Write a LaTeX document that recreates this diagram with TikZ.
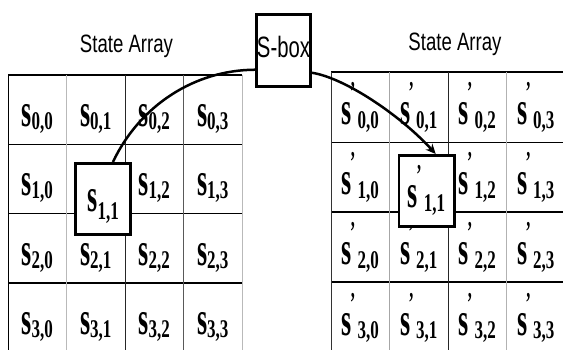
\documentclass[tikz,border=0pt]{standalone}
\usepackage{fontspec}
\setmainfont{Liberation Serif}
\setsansfont{Liberation Sans}
\usetikzlibrary{arrows.meta}

% bold, tall letter s used in every state cell
\newcommand\ssym{\scalebox{1}[1.8]{\fontsize{26}{26}\selectfont\bfseries s}}
% lowered index pair, optional argument = how far it drops
\newcommand\lsub[2][3pt]{\raisebox{-#1}{\scalebox{1}[1.5]{\fontsize{17}{17}\selectfont\bfseries #2}}}
% input state entry  s_{i,j}
\newcommand\lcell[2][3pt]{\ssym\lsub[#1]{#2}}
% output state entry  s'_{i,j}
\newcommand\rcell[1]{\ssym\rlap{\hspace{-1.5pt}\raisebox{23pt}{\scalebox{1}[1.8]{\fontsize{16}{16}\selectfont\bfseries ’}}}\hspace{6pt}\lsub[4pt]{#1}}

\tikzset{
  gridh/.style={line width=1.1pt, black},
  gridv/.style={line width=0.9pt, draw=#1},
  cellbox/.style={draw, line width=2.8pt, fill=white, minimum width=55.2pt,
                  minimum height=71.2pt, inner sep=0pt},
  sboxst/.style={draw, line width=3.4pt, fill=white, minimum width=53.6pt,
                 minimum height=71.6pt, inner sep=0pt},
  celltext/.style={anchor=base, inner sep=0pt},
  titletext/.style={anchor=base, inner sep=0pt, font=\sffamily},
  arc/.style={line width=2.5pt, black},
}

\begin{document}
\begin{tikzpicture}[x=1pt, y=-1pt]
  \useasboundingbox (0,0) rectangle (563,350);
  \fill[white] (0,0) rectangle (563,350);
  \clip (0,0) rectangle (563,350);

  % ---------- titles ----------
  \node[titletext] (ltitle) at (126.5,53)
    {\scalebox{1}[1.35]{\fontsize{18.6}{18.6}\selectfont State Array}};
  \node[titletext] (rtitle) at (455,51)
    {\scalebox{1}[1.35]{\fontsize{18.6}{18.6}\selectfont State Array}};

  % ---------- input state grid ----------
  \foreach \yy in {75,144.3,213.6,283}
    \draw[gridh] (8,\yy) -- (242,\yy);
  \foreach \xx/\cc in {8/black,66.5/gray!55,125/black!85,183.5/black!65,242/gray!55}
    \draw[gridv=\cc] (\xx,75) -- (\xx,353);

  % ---------- output state grid ----------
  \foreach \yy in {72,142.5,212,282}
    \draw[gridh] (331,\yy) -- (566,\yy);
  \foreach \xx/\cc in {331/black!80,389.5/gray!70,448/black!85,506.5/gray!60}
    \draw[gridv=\cc] (\xx,72) -- (\xx,353);

  % ---------- cell entries ----------
  \foreach \r in {0,...,3}{
    \foreach \c in {0,...,3}{
      \ifnum\numexpr\r*10+\c\relax=11 \else
        \pgfmathsetmacro\lx{37.25+58.5*\c}
        \pgfmathsetmacro\ly{75+69.3*\r+51.5}
        \pgfmathsetmacro\rx{360.25+58.5*\c}
        \pgfmathsetmacro\ry{72+70*\r+53}
        \node[celltext] (L\r\c) at (\lx,\ly) {\lcell{\r,\c}};
        \node[celltext] (R\r\c) at (\rx,\ry) {\rcell{\r,\c}};
      \fi
    }
  }

  % ---------- highlighted byte, before and after ----------
  \node[cellbox] (L11) at (103,199) {};
  \node[celltext] (L11t) at (103.3,211.7) {\lcell[8pt]{1,1}};
  \node[cellbox] (R11) at (426.5,191) {};
  \node[celltext] (R11t) at (426.5,208) {\rcell{1,1}};

  % ---------- substitution box ----------
  \node[sboxst] (sbox) at (283.5,50.5) {};
  \node[celltext, font=\sffamily] (sboxt) at (283.5,58)
    {\scalebox{1}[1.45]{\fontsize{20.3}{20.3}\selectfont S-box}};

  % ---------- data path through the S-box ----------
  \draw[arc] (L11.75) .. controls (140,105) and (195,70) .. (sbox.214);
  \draw[arc, -{Stealth[length=10pt,width=9pt]}]
    (sbox.-38) .. controls (345,78) and (400,115) .. (R11.76);
\end{tikzpicture}
\end{document}
